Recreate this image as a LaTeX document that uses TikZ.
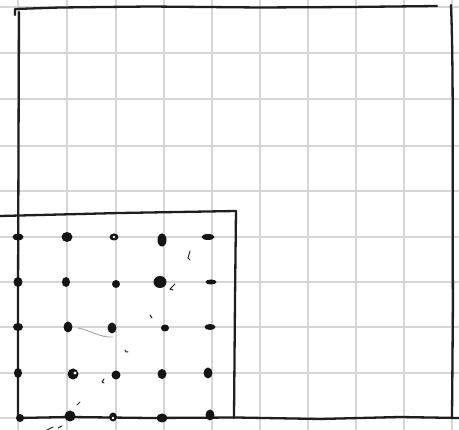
\documentclass[tikz,border=0pt]{standalone}
\begin{document}
\begin{tikzpicture}[x=1pt,y=-1pt,
  gridline/.style={draw=black!16,line width=2pt},
  pen/.style={draw=black!88,line width=2.3pt,line cap=round,line join=round},
  blob/.style={fill=black!92},
  tick/.style={draw=black!85,line width=1pt,line cap=round}]
\useasboundingbox (0,0) rectangle (459,430);
\fill[white] (0,0) rectangle (459,430);
% grid
\foreach \gx in {18,67,116,164,212,260,308,356,404,452}
  \draw[gridline] (\gx,0) -- (\gx,430);
\foreach \gy in {7,53,99,146,191,237,282,327,373,418}
  \draw[gridline] (0,\gy) -- (459,\gy);
% big rectangle
\draw[pen] (15,15) -- (15,9) -- (60,7.5) -- (150,6.5) -- (260,7.5) -- (350,7) -- (437,6);
\draw[pen] (19,12) -- (18.5,150) -- (18,300) -- (18,418);
\draw[pen] (451,5) .. controls (454,80) and (452,200) .. (453,300) -- (452,418);
\draw[pen] (18,418) -- (70,417) -- (150,418) -- (236,417.5) -- (320,419) -- (400,417) -- (459,418);
% small rectangle
\draw[pen] (0,216) -- (120,213) -- (236,211);
\draw[pen] (236,211) -- (235,300) -- (234,418);
% dots
\foreach \dx/\dy/\rx/\ry in {
  18/237/5.5/3.5, 67/237/5.5/5, 114/237/4.5/3.5, 162/240/4.5/6.5, 208/237/6.5/3,
  18/282/4.5/5, 66/282/4/5, 116/284/4/4, 160/282/6.5/6, 211/282/5.5/2.5,
  18/327/5/4, 68/327/4.5/5.5, 112/328/4.5/5.5, 165/328/4/3.5, 210/327/5.5/3,
  18/373/4/5, 73/374/5.5/5.5, 116/375/4.5/4.5, 162/374/4.5/5, 208/373/4.5/5.5,
  20/418/4/4, 70/416/5.5/5.5, 113/417/4/4.5, 162/418/5.5/4.5, 210/415/4.5/5.5}
  \fill[blob] (\dx,\dy) ellipse[x radius=\rx, y radius=\ry];
\fill[white] (114,237) circle[radius=1.4];
\fill[white] (75,373) circle[radius=1.6];
\fill[white] (113,418) circle[radius=1.4];
% faint stroke
\draw[draw=black!35,line width=0.9pt] (78,328) .. controls (90,330) and (100,338) .. (113,337);
% small tick marks
\draw[tick] (190,251) -- (188,258) -- (190,260);
\draw[tick] (175,284) -- (170,289) -- (173,290);
\draw[tick] (150,315) -- (152,318);
\draw[tick] (125,350) -- (126,352) -- (128,352);
\draw[tick] (104,379) -- (102,382) -- (104,383);
\draw[tick] (80,402) -- (77,405);
\draw[tick] (47,430) -- (53,427);
\draw[tick] (58,428) -- (62,426);
\end{tikzpicture}
\end{document}
